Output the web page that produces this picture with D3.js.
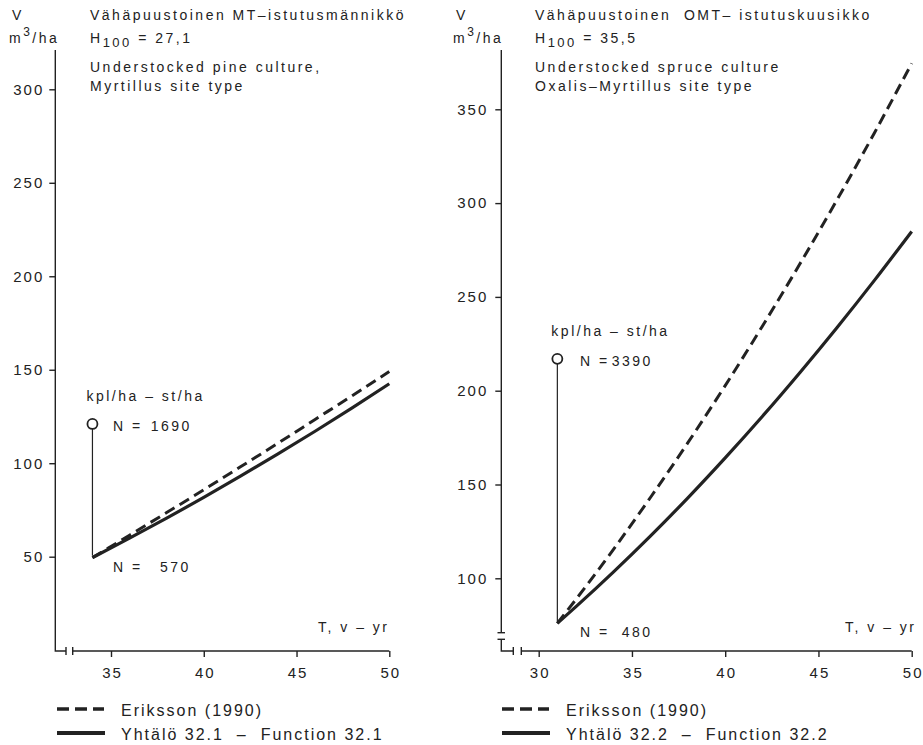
<!DOCTYPE html>
<html>
<head>
<meta charset="utf-8">
<script src="https://cdn.jsdelivr.net/npm/d3@7"></script>
<style>
  body { margin: 0; background: #fff; }
  svg text { font-family: "Liberation Sans", Arial, Helvetica, sans-serif; fill: #222; }
</style>
</head>
<body>
<svg id="chart" width="923" height="745"></svg>
<script>
// ------- data -------
// left: pine culture, MT site
var leftYears = [34, 36, 38, 40, 42, 44, 46, 48, 50];
var leftEriksson = [49.5, 61.5, 73.6, 85.8, 98.2, 110.7, 123.4, 136.1, 149.0];
var leftFunction = [49.5, 59.9, 70.6, 81.7, 93.2, 105.0, 117.1, 129.6, 142.5];
var leftXTicks = [35, 40, 45, 50];
var leftYTicks = [50, 100, 150, 200, 250, 300];
var leftStand = { t: 34, before: 121, after: 49.5, nBefore: "1690", nAfter: "570" };

// right: spruce culture, OMT site
var rightYears = [31, 32, 34, 36, 38, 40, 42, 44, 46, 48, 50];
var rightEriksson = [76, 88.8, 115.3, 143.2, 172.3, 202.7, 234.5, 267.5, 301.8, 337.4, 374.5];
var rightFunction = [76, 84.9, 103.3, 122.6, 142.9, 164.2, 186.4, 209.6, 233.7, 258.8, 284.9];
var rightXTicks = [30, 35, 40, 45, 50];
var rightYTicks = [100, 150, 200, 250, 300, 350];
var rightStand = { t: 31, before: 217, after: 76, nBefore: "3390", nAfter: "480" };

var ink = "#222";
var svg = d3.select("#chart");
var axisY = 651;

function txt(x, y, s, size, spacing) {
    return svg.append("text")
        .attr("x", x).attr("y", y)
        .style("font-size", (size || 14) + "px")
        .style("letter-spacing", (spacing == null ? 2.5 : spacing) + "px")
        .style("white-space", "pre")
        .text(s);
}

function drawPanel(p) {
    var x = d3.scaleLinear().domain(p.xDom).range(p.xRange);
    var y = d3.scaleLinear().domain(p.yDom).range(p.yRange);

    // y axis ticks + labels
    var ya = svg.append("g")
        .attr("transform", "translate(" + p.axisX + ",0)")
        .call(d3.axisLeft(y).tickValues(p.yTicks).tickSize(6).tickPadding(p.yPad));
    ya.select(".domain").remove();
    ya.selectAll("line").attr("stroke", ink).attr("stroke-width", 1.4);
    ya.selectAll("text")
        .style("font-size", "15px").style("letter-spacing", "2px")
        .attr("dx", "2px").attr("fill", ink);

    // x axis ticks + labels
    var xa = svg.append("g")
        .attr("transform", "translate(0," + axisY + ")")
        .call(d3.axisBottom(x).tickValues(p.xTicks).tickSize(6).tickPadding(10));
    xa.select(".domain").remove();
    xa.selectAll("line").attr("stroke", ink).attr("stroke-width", 1.4);
    xa.selectAll("text")
        .style("font-size", "15px").style("letter-spacing", "2px")
        .attr("dx", "1px").attr("fill", ink);

    // axis lines with breaks
    var g = svg.append("g").attr("stroke", ink).attr("stroke-width", 1.4).attr("fill", "none");
    p.breaks(g, x, y);
    g.append("line").attr("x1", p.xStart).attr("x2", x(p.xDom[1]))
        .attr("y1", axisY).attr("y2", axisY);

    // curves
    var line = d3.line().curve(d3.curveMonotoneX)
        .x(function (d) { return x(d[0]); })
        .y(function (d) { return y(d[1]); });
    svg.append("path")
        .datum(d3.zip(p.years, p.eriksson))
        .attr("d", line).attr("fill", "none").attr("stroke", ink)
        .attr("stroke-width", 3).attr("stroke-dasharray", "11,6");
    svg.append("path")
        .datum(d3.zip(p.years, p.func))
        .attr("d", line).attr("fill", "none").attr("stroke", ink)
        .attr("stroke-width", 3.2);

    // stand before/after thinning
    var s = p.stand;
    svg.append("line")
        .attr("x1", x(s.t)).attr("x2", x(s.t))
        .attr("y1", y(s.before) + 5).attr("y2", y(s.after) - 2)
        .attr("stroke", ink).attr("stroke-width", 1.2);
    svg.append("circle")
        .attr("cx", x(s.t)).attr("cy", y(s.before)).attr("r", 5)
        .attr("fill", "none").attr("stroke", ink).attr("stroke-width", 1.8);
    txt(x(s.t) - 6, y(s.before) - 23, "kpl/ha – st/ha");
    txt(p.nX, y(s.before) + 7, "N =");
    txt(p.nBeforeX, y(s.before) + 7, s.nBefore);
    txt(p.nX, y(s.after) + 14, "N =");
    txt(p.nAfterX, y(s.after) + 14, s.nAfter);

    // axis titles
    var v = txt(p.vX, 20, "V");
    var m = txt(p.vX - 3, 43, "m");
    m.append("tspan").attr("dy", -7).style("font-size", "12px").text("3");
    m.append("tspan").attr("dy", 7).text("/ha");
    txt(p.tX, 632, "T, v – yr");

    // panel titles
    txt(p.titleX, 20, p.title);
    var h = txt(p.titleX, 43, "H");
    h.append("tspan").attr("dy", 4).style("font-size", "13px").text("100");
    h.append("tspan").attr("dy", -4).text(" = " + p.h100);
    txt(p.titleX, 72, p.en1);
    txt(p.titleX, 91, p.en2);

    // legend
    svg.append("line").attr("x1", p.legX).attr("x2", p.legX + 47)
        .attr("y1", 709).attr("y2", 709).attr("stroke", ink)
        .attr("stroke-width", 3.5).attr("stroke-dasharray", "12,6");
    svg.append("line").attr("x1", p.legX).attr("x2", p.legX + 48)
        .attr("y1", 733).attr("y2", 733).attr("stroke", ink).attr("stroke-width", 4);
    txt(p.legX + 64, 716, "Eriksson (1990)", 16, 2);
    txt(p.legX + 64, 740, p.funcLabel, 16, 2);
}

drawPanel({
    years: leftYears, eriksson: leftEriksson, func: leftFunction,
    xTicks: leftXTicks, yTicks: leftYTicks, stand: leftStand,
    xDom: [35, 50], xRange: [111, 389.3],
    yDom: [50, 300], yRange: [556.7, 89.3],
    axisX: 55.3, yPad: 7, xStart: 72.7,
    breaks: function (g, x, y) {
        g.append("path").attr("d", "M55.3,50V" + axisY + "H66");
        g.append("line").attr("x1", 66).attr("x2", 66).attr("y1", axisY - 4).attr("y2", axisY + 4);
        g.append("line").attr("x1", 72.7).attr("x2", 72.7).attr("y1", axisY - 4).attr("y2", axisY + 4);
    },
    nX: 113, nBeforeX: 150.7, nAfterX: 160,
    vX: 12, tX: 318, titleX: 90, legX: 57,
    title: "Vähäpuustoinen MT–istutusmännikkö", h100: "27,1",
    en1: "Understocked pine culture,", en2: "Myrtillus site type",
    funcLabel: "Yhtälö 32.1  –  Function 32.1"
});

drawPanel({
    years: rightYears, eriksson: rightEriksson, func: rightFunction,
    xTicks: rightXTicks, yTicks: rightYTicks, stand: rightStand,
    xDom: [30, 50], xRange: [538.7, 911.7],
    yDom: [100, 350], yRange: [578.3, 109.3],
    axisX: 501.3, yPad: 9, xStart: 521.3,
    breaks: function (g, x, y) {
        g.append("path").attr("d", "M501.3,50V632.7");
        g.append("line").attr("x1", 497.5).attr("x2", 505).attr("y1", 632.7).attr("y2", 632.7);
        g.append("line").attr("x1", 497.5).attr("x2", 505).attr("y1", 639.3).attr("y2", 639.3);
        g.append("path").attr("d", "M501.3,639.3V" + axisY + "H513.3");
        g.append("line").attr("x1", 513.3).attr("x2", 513.3).attr("y1", axisY - 4).attr("y2", axisY + 4);
        g.append("line").attr("x1", 521.3).attr("x2", 521.3).attr("y1", axisY - 4).attr("y2", axisY + 4);
    },
    nX: 580, nBeforeX: 611.7, nAfterX: 621.7,
    vX: 456, tX: 845, titleX: 535, legX: 502,
    title: "Vähäpuustoinen  OMT– istutuskuusikko", h100: "35,5",
    en1: "Understocked spruce culture", en2: "Oxalis–Myrtillus site type",
    funcLabel: "Yhtälö 32.2  –  Function 32.2"
});
</script>
</body>
</html>
